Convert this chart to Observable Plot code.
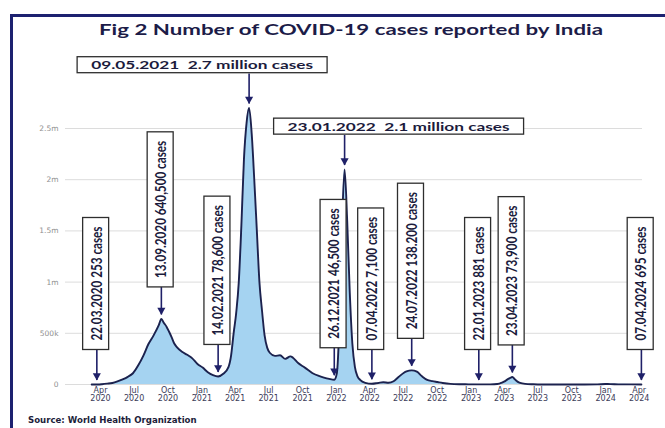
<!DOCTYPE html>
<html>
<head>
<meta charset="utf-8">
<script src="https://cdn.jsdelivr.net/npm/d3@7"></script>
<script src="https://cdn.jsdelivr.net/npm/@observablehq/plot@0.6"></script>
<style>
  body { margin: 0; background: #fff; }
  #page { position: relative; width: 665px; height: 428px; overflow: hidden; background: #fff; }
  #frame { position: absolute; left: 10px; top: 14px; width: 700px; height: 480px;
           border-top: 3px solid #1d2170; border-left: 3px solid #1d2170; pointer-events: none; }
  #title { padding-top: 20px; height: 20px; line-height: 20px; padding-left: 37px; text-align: center;
           font-family: Lato, "Open Sans", sans-serif; font-weight: 700; font-size: 14.5px; color: #1c1c48; white-space: nowrap; }
  #title span { display: inline-block; transform-origin: 50% 50%; }
  #chart { height: 368px; }
  #source { padding-left: 28px; margin-top: 6px; line-height: 12px; font-family: "DejaVu Sans", sans-serif;
            font-weight: 700; font-size: 8.6px; color: #1d1d3a; white-space: nowrap; }
</style>
</head>
<body>
<div id="page">
  <div id="frame"></div>
  <div id="title"><span id="titleText">Fig 2 Number of COVID-19 cases reported by India</span></div>
  <div id="chart"></div>
  <div id="source">Source: World Health Organization</div>
</div>
<script>
// Weekly reported COVID-19 cases in India (WHO)
const weekDates = [
  "2020-03-08","2020-03-15","2020-03-29","2020-04-05","2020-04-19","2020-05-03","2020-05-17","2020-05-31",
  "2020-06-14","2020-06-28","2020-07-12","2020-07-26","2020-08-09","2020-08-23","2020-09-06","2020-09-20",
  "2020-09-27","2020-10-04","2020-10-11","2020-10-18","2020-10-25","2020-11-08","2020-11-22","2020-12-06",
  "2020-12-20","2021-01-03","2021-01-17","2021-01-31","2021-02-28","2021-03-14","2021-03-21","2021-03-28",
  "2021-04-04","2021-04-11","2021-04-18","2021-04-25","2021-05-02","2021-05-16","2021-05-23","2021-05-30",
  "2021-06-06","2021-06-13","2021-06-20","2021-06-27","2021-07-04","2021-07-18","2021-08-01","2021-08-15",
  "2021-08-29","2021-09-05","2021-09-19","2021-10-03","2021-10-17","2021-10-31","2021-11-14","2021-11-28",
  "2021-12-12","2022-01-02","2022-01-09","2022-01-16","2022-01-30","2022-02-06","2022-02-13","2022-02-20",
  "2022-02-27","2022-03-06","2022-03-20","2022-04-24","2022-05-08","2022-05-22","2022-06-05","2022-06-19",
  "2022-07-03","2022-07-10","2022-08-07","2022-08-21","2022-09-04","2022-09-18","2022-10-02","2022-10-16",
  "2022-11-06","2022-12-04","2022-12-25","2023-02-12","2023-03-05","2023-03-19","2023-03-26","2023-04-02",
  "2023-04-09","2023-04-16","2023-04-30","2023-05-07","2023-05-14","2023-05-28","2023-06-18","2023-07-16",
  "2023-09-03","2023-11-05","2023-12-10","2023-12-31","2024-01-14","2024-02-04","2024-03-10"
];
const weekCases = [
  40, 110, 700, 2500, 8000, 15000, 30000, 50000,
  75000, 110000, 185000, 280000, 395000, 480000, 580000, 600000,
  565000, 515000, 460000, 400000, 365000, 320000, 290000, 255000,
  200000, 165000, 120000, 92000, 105000, 170000, 280000, 500000,
  700000, 1000000, 1550000, 2200000, 2550000, 2450000, 2000000, 1500000,
  1000000, 720000, 480000, 360000, 310000, 280000, 285000, 250000,
  275000, 262000, 210000, 175000, 140000, 105000, 85000, 68000,
  55000, 110000, 600000, 1550000, 1600000, 900000, 400000, 170000,
  80000, 45000, 16000, 15000, 22000, 17000, 32000, 75000,
  115000, 128000, 125000, 80000, 45000, 33000, 24000, 15000,
  6000, 2500, 1500, 1000, 3000, 9000, 18000, 30000,
  48000, 62000, 50000, 28000, 15000, 6000, 2500, 700,
  300, 300, 1000, 4200, 4000, 1500, 800
];

// Annotated weeks
const annDates = ["2020-03-22","2020-09-13","2021-02-14","2021-05-09","2021-12-26","2022-01-23",
                  "2022-04-07","2022-07-24","2023-01-22","2023-04-23","2024-04-07"];
const annCases = [253, 640500, 78600, 2700000, 46500, 2100000, 7100, 138200, 881, 73900, 695];
const annText  = ["253 cases","640,500 cases","78,600 cases","2.7 million cases","46,500 cases","2.1 million cases",
                  "7,100 cases","138.200 cases","881 cases","73,900 cases","695 cases"];

// Axis ticks
const xTickLabels = ["Apr 2020","Jul 2020","Oct 2020","Jan 2021","Apr 2021","Jul 2021","Oct 2021","Jan 2022",
                     "Apr 2022","Jul 2022","Oct 2022","Jan 2023","Apr 2023","Jul 2023","Oct 2023","Jan 2024","Apr 2024"];
const yTickValues = [0, 500000, 1000000, 1500000, 2000000, 2500000];
const yTickLabels = ["0","500k","1m","1.5m","2m","2.5m"];

const parseDay = d3.utcParse("%Y-%m-%d");
const parseTick = d3.utcParse("%b %Y");
const dayFmt = d3.utcFormat("%d.%m.%Y");

const annotations = annDates.map((d, i) => ({date: parseDay(d), cases: annCases[i], text: annText[i]}));
const series = weekDates.map((d, i) => ({date: parseDay(d), cases: weekCases[i]}))
  .concat(annotations.map(a => ({date: a.date, cases: a.cases})))
  .sort((a, b) => a.date - b.date);

const xTicks = xTickLabels.map(s => parseTick(s));
const xTickText = new Map(xTickLabels.map((s, i) => [+xTicks[i], s.replace(" ", "\n")]));
const yTickText = new Map(yTickValues.map((v, i) => [v, yTickLabels[i]]));

// Layout
const W = 665, H = 368, mTop = 11.2, mBottom = 24, mLeft = 65, mRight = 23;
const yMax = 3.25e6;
const PX = yMax / (H - mTop - mBottom);          // cases per pixel

const big = a => a.cases >= 1e6;
const tip = a => a.cases + 4 * PX;
const boxBottom = a => big(a) ? tip(a) + 30 * PX : Math.max(tip(a) + 28 * PX, 35 * PX);

const vertical = annotations.filter(a => !big(a)).map(a => ({...a, label: `${dayFmt(a.date)} ${a.text}`}));
const horizontal = annotations.filter(big).map(a => ({...a, label: `${dayFmt(a.date)}\u00a0\u00a0${a.text}`}));
const sideShift = [-47, 54];   // horizontal boxes sit beside their arrows

// Down-pointing arrowhead whose tip is the anchor point
const arrowHead = {
  draw(context, size) {
    const r = Math.sqrt(size / Math.PI);
    const h = 2.4 * r, w = 1.35 * r;
    context.moveTo(0, 0);
    context.lineTo(-w, -h);
    context.lineTo(w, -h);
    context.closePath();
  }
};

const ink = "#1f2068";
const labelStyle = {fontFamily: "Lato, 'Open Sans', sans-serif", fontWeight: 700, fill: "#1b1b3c"};

const chart = Plot.plot({
  width: W, height: H,
  marginTop: mTop, marginBottom: mBottom, marginLeft: mLeft, marginRight: mRight,
  style: {background: "transparent", fontFamily: "'DejaVu Sans', sans-serif", overflow: "visible"},
  x: {type: "utc", domain: [parseDay("2019-12-28"), parseDay("2024-04-10")]},
  y: {domain: [0, yMax]},
  marks: [
    Plot.gridY(yTickValues, {stroke: "#dcdcdc", strokeOpacity: 1, strokeWidth: 1}),
    Plot.axisY(yTickValues, {tickSize: 0, tickPadding: 7, fontSize: 7.5, fill: "#8f8f8f", label: null,
                             tickFormat: v => yTickText.get(v)}),
    Plot.axisX(xTicks, {tickSize: 0, tickPadding: 3.5, fontSize: 8, lineHeight: 0.95, fill: "#3b3b58", label: null,
                        tickFormat: d => xTickText.get(+d)}),
    Plot.areaY(series, {x: "date", y: "cases", fill: "#a5d3f1", curve: "monotone-x"}),
    Plot.lineY(series, {x: "date", y: "cases", stroke: "#1c224e", strokeWidth: 1.9, curve: "monotone-x"}),
    Plot.ruleX(annotations, {x: "date", y1: boxBottom, y2: tip, stroke: ink, strokeWidth: 1.6}),
    Plot.dot(annotations, {x: "date", y: tip, symbol: arrowHead, r: 3, fill: ink, stroke: null}),
    Plot.text(vertical, {x: "date", y: boxBottom, text: "label", rotate: -90, textAnchor: "start",
                         lineAnchor: "middle", dy: -9, fontSize: 15, ...labelStyle}),
    ...horizontal.map((a, i) => Plot.text([a], {x: "date", y: d => boxBottom(d) + 8.5 * PX, text: "label",
                         textAnchor: "middle", lineAnchor: "middle", dx: sideShift[i], fontSize: 11.5, ...labelStyle}))
  ]
});

document.getElementById("chart").append(chart);

// Framed labels: squeeze or stretch each text, then put a white box behind it
function frameLabels(svg, labels, squeeze, padLen, padAcross) {
  const wanted = new Set(labels);
  for (const el of svg.querySelectorAll("text")) {
    if (!wanted.has(el.textContent)) continue;
    const len = el.getComputedTextLength() * squeeze;
    el.setAttribute("textLength", len);
    el.setAttribute("lengthAdjust", "spacingAndGlyphs");
    const b = el.getBBox();
    const anchor = el.getAttribute("text-anchor") || getComputedStyle(el).textAnchor;
    const x0 = anchor === "middle" ? b.x + b.width / 2 - len / 2 : b.x;
    const rect = document.createElementNS("http://www.w3.org/2000/svg", "rect");
    rect.setAttribute("x", x0 - padLen);
    rect.setAttribute("y", b.y - padAcross);
    rect.setAttribute("width", len + 2 * padLen);
    rect.setAttribute("height", b.height + 2 * padAcross);
    rect.setAttribute("fill", "#fff");
    rect.setAttribute("stroke", "#2e2e2e");
    rect.setAttribute("stroke-width", 1.3);
    if (el.getAttribute("transform")) rect.setAttribute("transform", el.getAttribute("transform"));
    el.parentNode.insertBefore(rect, el);
  }
}
frameLabels(chart, vertical.map(d => d.label), 0.78, 9, 4);
frameLabels(chart, horizontal.map(d => d.label), 1.5, 14, 1.5);

// Title drawn at the width of the plot heading
const titleText = document.getElementById("titleText");
titleText.style.transform = `scaleX(${504 / titleText.getBoundingClientRect().width})`;
</script>
</body>
</html>
